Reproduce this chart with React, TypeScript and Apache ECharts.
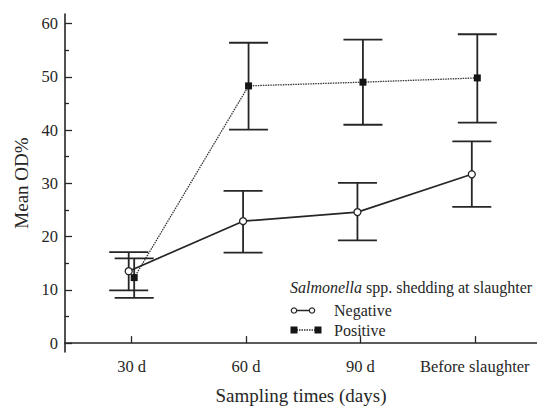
import React, { useEffect, useRef } from "react";
import * as echarts from "echarts";

const categories = ["30 d", "60 d", "90 d", "Before slaughter"];
const negMean = [13.5, 22.9, 24.6, 31.7];
const negLow = [9.9, 17.0, 19.3, 25.6];
const negHigh = [17.1, 28.6, 30.1, 37.9];
const posMean = [12.3, 48.3, 49.0, 49.8];
const posLow = [8.5, 40.1, 41.0, 41.4];
const posHigh = [15.9, 56.4, 57.0, 58.0];
const yTicks = [0, 10, 20, 30, 40, 50, 60];
const yMinorTicks = [5, 15, 25, 35, 45, 55];
const xTicks = [1, 2, 3, 4];

const NEG_OFF = -0.026;
const POS_OFF = 0.022;
const FONT = "'Liberation Serif', 'Times New Roman', serif";
const INK = "#262626";

export default function App() {
  const ref = useRef<HTMLDivElement>(null);
  useEffect(() => {
    if (!ref.current) return;
    const chart = echarts.init(ref.current, null, { renderer: "svg" });
    const errRender = (params: any, api: any) => {
      const x = api.value(0);
      const lo = api.coord([x, api.value(1)]);
      const hi = api.coord([x, api.value(2)]);
      const hw = 19.5;
      const st = { stroke: INK, lineWidth: 1.8 };
      return {
        type: "group",
        children: [
          { type: "line", shape: { x1: lo[0], y1: lo[1], x2: hi[0], y2: hi[1] }, style: st },
          { type: "line", shape: { x1: lo[0] - hw, y1: lo[1], x2: lo[0] + hw, y2: lo[1] }, style: st },
          { type: "line", shape: { x1: hi[0] - hw, y1: hi[1], x2: hi[0] + hw, y2: hi[1] }, style: st },
        ],
      };
    };
    const textStyle = { fontFamily: FONT, color: INK };
    chart.setOption({
      animation: false,
      backgroundColor: "#ffffff",
      grid: { left: 65, right: 0, top: 14, bottom: 53 },
      xAxis: {
        type: "value",
        min: 0.417,
        max: 4.544,
        axisLine: { show: true, lineStyle: { color: INK, width: 1.6 } },
        axisTick: { show: true, inside: true, length: 7, customValues: xTicks, lineStyle: { color: INK, width: 1.3 } },
        axisLabel: {
          customValues: xTicks,
          formatter: (v: number) => categories[Math.round(v) - 1] ?? "",
          fontFamily: FONT,
          fontSize: 16.5,
          color: INK,
          margin: 6,
        },
        splitLine: { show: false },
        name: "Sampling times (days)",
        nameLocation: "middle",
        nameGap: 34,
        nameTextStyle: { ...textStyle, fontSize: 19 },
      },
      yAxis: [
        {
          type: "value",
          min: -1.67,
          max: 61.8,
          axisLine: { show: true, lineStyle: { color: INK, width: 1.6 } },
          axisTick: { show: true, inside: true, length: 7, customValues: yTicks, lineStyle: { color: INK, width: 1.3 } },
          axisLabel: { customValues: yTicks, fontFamily: FONT, fontSize: 16.5, color: INK, margin: 7 },
          splitLine: { show: false },
          name: "Mean OD%",
          nameLocation: "middle",
          nameRotate: 90,
          nameGap: 31,
          nameTextStyle: { ...textStyle, fontSize: 19 },
        },
        {
          type: "value",
          position: "left",
          min: -1.67,
          max: 61.8,
          axisLine: { show: false },
          axisTick: { show: true, inside: true, length: 4, customValues: yMinorTicks, lineStyle: { color: INK, width: 1.3 } },
          axisLabel: { show: false },
          splitLine: { show: false },
        },
      ],
      series: [
        {
          type: "custom",
          name: "negErr",
          renderItem: errRender,
          encode: { x: 0, y: [1, 2] },
          data: negMean.map((_, i) => [i + 1 + NEG_OFF, negLow[i], negHigh[i]]),
          z: 2,
        },
        {
          type: "custom",
          name: "posErr",
          renderItem: errRender,
          encode: { x: 0, y: [1, 2] },
          data: posMean.map((_, i) => [i + 1 + POS_OFF, posLow[i], posHigh[i]]),
          z: 2,
        },
        {
          type: "line",
          name: "Positive",
          data: posMean.map((v, i) => [i + 1 + POS_OFF, v]),
          symbol: "rect",
          symbolSize: 7,
          itemStyle: { color: "#151515" },
          lineStyle: { color: "#333333", width: 1.3, type: [1.5, 1] },
          z: 3,
        },
        {
          type: "line",
          name: "Negative",
          data: negMean.map((v, i) => [i + 1 + NEG_OFF, v]),
          symbol: "circle",
          symbolSize: 7,
          itemStyle: { color: "#ffffff", borderColor: INK, borderWidth: 1.3 },
          lineStyle: { color: INK, width: 1.7 },
          z: 4,
        },
      ],
      graphic: [
        {
          type: "text",
          x: 290,
          y: 287,
          style: {
            text: "{i|Salmonella} spp. shedding at slaughter",
            font: `16px ${FONT}`,
            fill: INK,
            verticalAlign: "middle",
            rich: { i: { fontStyle: "italic", fontFamily: FONT, fontSize: 16, fill: INK } },
          },
        },
        { type: "line", shape: { x1: 294, y1: 310.5, x2: 312, y2: 310.5 }, style: { stroke: INK, lineWidth: 1.5 } },
        { type: "circle", shape: { cx: 294, cy: 310.5, r: 2.7 }, style: { fill: "#fff", stroke: INK, lineWidth: 1.2 } },
        { type: "circle", shape: { cx: 312, cy: 310.5, r: 2.7 }, style: { fill: "#fff", stroke: INK, lineWidth: 1.2 } },
        { type: "text", x: 334, y: 310.5, style: { text: "Negative", font: `16px ${FONT}`, fill: INK, verticalAlign: "middle" } },
        { type: "line", shape: { x1: 294, y1: 330, x2: 318, y2: 330 }, style: { stroke: "#333333", lineWidth: 1.3, lineDash: [1.5, 1] } },
        { type: "rect", shape: { x: 290.5, y: 326.5, width: 7, height: 7 }, style: { fill: "#151515" } },
        { type: "rect", shape: { x: 314.5, y: 326.5, width: 7, height: 7 }, style: { fill: "#151515" } },
        { type: "text", x: 334, y: 330, style: { text: "Positive", font: `16px ${FONT}`, fill: INK, verticalAlign: "middle" } },
      ],
    });
    return () => chart.dispose();
  }, []);
  return (
    <div
      ref={ref}
      style={{ position: "absolute", left: 0, top: 0, width: 537, height: 410, background: "#fff" }}
    />
  );
}
